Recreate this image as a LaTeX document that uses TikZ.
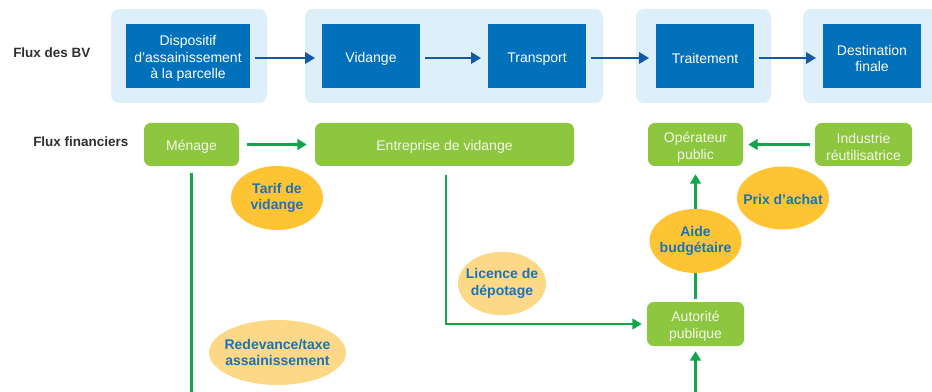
\documentclass[tikz,border=0pt]{standalone}
\usepackage{fontspec}
\setmainfont{Liberation Sans}
\usetikzlibrary{arrows.meta,shapes.geometric}
\definecolor{bgblue}{HTML}{DDF0FA}
\definecolor{boxblue}{HTML}{0071BA}
\definecolor{arrblue}{HTML}{1558A6}
\definecolor{boxgreen}{HTML}{8DC63F}
\definecolor{lngreen}{HTML}{12A54B}
\definecolor{ora}{HTML}{FFC433}
\definecolor{lora}{HTML}{FDD987}
\definecolor{elltext}{HTML}{1C72B8}
\definecolor{greentext}{HTML}{F4F8E8}
\definecolor{lbl}{HTML}{2F2F2F}
\newcommand\myst{\rule{0pt}{11.5pt}}
\begin{document}
\begin{tikzpicture}[x=0.75pt,y=-0.75pt,
  every node/.style={font=\fontsize{10.5}{12.5}\selectfont, align=center},
  bluebox/.style={fill=boxblue, text=white, minimum height=48pt, inner sep=1pt},
  greenbox/.style={fill=boxgreen, text=greentext, rounded corners=5pt, minimum height=32.25pt, inner sep=1pt},
  ellshape/.style={ellipse, inner sep=0pt},
  bigell/.style={ellshape, fill=ora, minimum width=69pt, minimum height=48pt},
  lightell/.style={ellshape, fill=lora, minimum height=47.5pt},
  elltext/.style={inner sep=0pt, text=elltext, font=\fontsize{10.5}{12.5}\selectfont\bfseries},
  barrow/.style={draw=arrblue, line width=1.6pt, -{Triangle[length=7.5pt,width=8.5pt]}, shorten <=3.75pt, shorten >=5pt},
  garrow/.style={draw=lngreen, line width=1.6pt, -{Triangle[length=7pt,width=8pt]}},
  gline/.style={draw=lngreen, line width=1.6pt},
  rowlabel/.style={anchor=west, inner sep=0pt, text=lbl, font=\fontsize{10.1}{12.5}\selectfont\bfseries}
]
\useasboundingbox (0,0) rectangle (932,392);

% background groups
\fill[bgblue, rounded corners=6pt] (111,9) rectangle (267,103);
\fill[bgblue, rounded corners=6pt] (305,9) rectangle (603,103);
\fill[bgblue, rounded corners=6pt] (636,9) rectangle (771,103);
\fill[bgblue, rounded corners=6pt] (803,9) rectangle (950,103);

% row labels
\node[rowlabel] (l1) at (13,53) {Flux des BV};
\node[rowlabel] (l2) at (33,142) {Flux financiers};

% blue flow
\node[bluebox, minimum width=93pt] (disp) at (188,56) {\myst Dispositif\\d’assainissement\\à la parcelle};
\node[bluebox, minimum width=73.5pt] (vid) at (371,56) {\myst Vidange};
\node[bluebox, minimum width=73.5pt] (trans) at (537,56) {\myst Transport};
\node[bluebox, minimum width=73.5pt] (trait) at (705,56) {\myst Traitement};
\node[bluebox, minimum width=73.5pt] (dest) at (872,56) {\myst Destination\\finale};

\draw[barrow] ([yshift=-1.5pt]disp.east) -- ([yshift=-1.5pt]vid.west);
\draw[barrow] ([yshift=-1.5pt]vid.east) -- ([yshift=-1.5pt]trans.west);
\draw[barrow] ([yshift=-1.5pt]trans.east) -- ([yshift=-1.5pt]trait.west);
\draw[barrow] ([yshift=-1.5pt]trait.east) -- ([yshift=-1.5pt]dest.west);

% green boxes
\node[greenbox, minimum width=71.25pt] (men) at (191.5,144.5) {\myst Ménage};
\node[greenbox, minimum width=194.25pt] (ent) at (444.5,144.5) {\myst Entreprise de vidange};
\node[greenbox, minimum width=71.25pt] (op) at (695.5,144.5) {\myst Opérateur\\public};
\node[greenbox, minimum width=72.75pt] (ind) at (863.5,144.5) {\myst Industrie\\réutilisatrice};
\node[greenbox, minimum width=72.75pt, minimum height=33pt] (aut) at (695.5,324) {\myst Autorité\\publique};

\coordinate (menend) at (191.5,400);
\coordinate (autstart) at (695.5,400);

% green connectors
\draw[garrow, shorten <=6pt, shorten >=6pt] (men.east) -- (ent.west);
\draw[garrow, shorten <=3.75pt, shorten >=3.75pt] (ind.west) -- (op.east);
\draw[garrow, shorten <=2.25pt, shorten >=6pt] (aut.north) -- (op.south);
\draw[garrow, shorten <=6.75pt, shorten >=3.75pt] ([xshift=1pt]ent.south) |- (aut.west);
\draw[gline, shorten <=5.25pt] (men.south) -- (menend);
\draw[garrow, shorten >=3.75pt] (autstart) -- (aut.south);

% ellipses
\node[bigell] (tarif) at (277,198) {};
\node[elltext] (tarift) at (tarif.center) {Tarif de\\vidange};
\node[bigell, minimum height=47.25pt] (prix) at (783,198) {};
\node[elltext] (prixt) at ([yshift=-1pt]prix.center) {Prix d’achat};
\node[bigell] (aide) at (695.5,241) {};
\node[elltext] (aidet) at (aide.center) {Aide\\budgétaire};
\node[lightell, minimum width=66pt] (lic) at (502,283.5) {};
\node[elltext] (lict) at (lic.center) {Licence de\\dépotage};
\node[lightell, minimum width=102.75pt, minimum height=48.75pt] (red) at (277.5,352.5) {};
\node[elltext] (redt) at (red.center) {Redevance/taxe\\assainissement};
\end{tikzpicture}
\end{document}
